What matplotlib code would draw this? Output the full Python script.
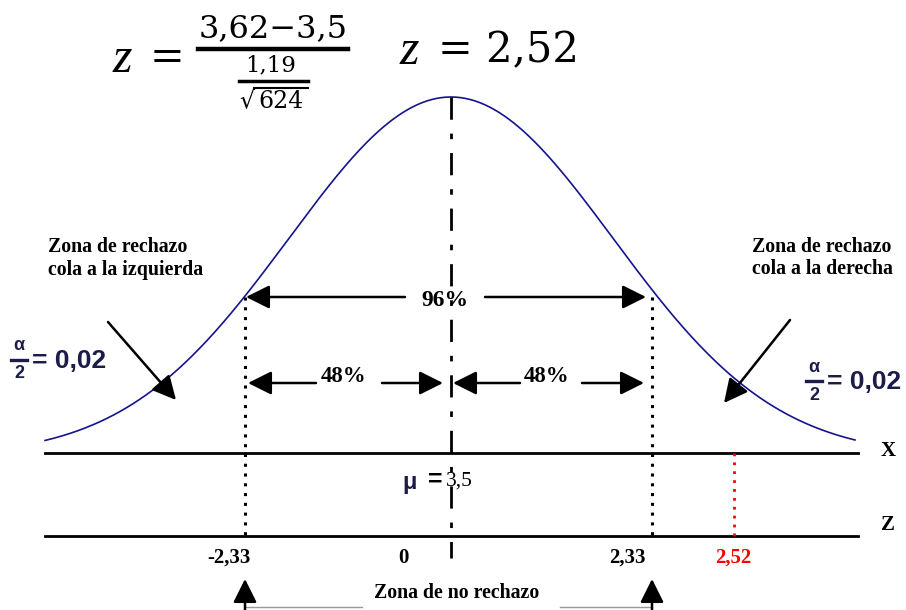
import numpy as np
import matplotlib
matplotlib.use("Agg")
import matplotlib.pyplot as plt

# Values shown in the diagram
xbar, mu, sd, n = "3,62", "3,5", "1,19", "624"
z_value = "2,52"
z_labels = ["-2,33", "0", "2,33", "2,52"]
z_label_colors = ["black", "black", "black", "red"]
pct_total = "96%"
pct_half = ["48%", "48%"]
alpha_half = "0,02"

# schematic layout (pixel canvas 906 x 610)
x_mid, x_left, x_right, x_obs = 451, 245, 652, 734
y_xline, y_zline = 453, 536
peak_y, base_y, spread = 97, 456, 162

fig = plt.figure(figsize=(9.06, 6.10), dpi=100)
ax = fig.add_axes([0, 0, 1, 1])
ax.set_xlim(0, 906)
ax.set_ylim(610, 0)
ax.axis("off")

serif = ["Liberation Serif", "DejaVu Serif"]
sans = ["Liberation Sans", "DejaVu Sans"]
navy = "#1c1c48"

# bell curve
xs = np.linspace(45, 855, 500)
ys = base_y - (base_y - peak_y) * np.exp(-0.5 * ((xs - x_mid) / spread) ** 2)
ax.plot(xs, ys, color="#14148c", lw=1.2)

# X and Z axes
ax.plot([45, 858], [y_xline, y_xline], color="black", lw=2)
ax.plot([45, 858], [y_zline, y_zline], color="black", lw=2)
ax.text(888, y_xline - 2, "X", fontsize=15, fontweight="bold", family=serif, ha="center", va="center")
ax.text(888, y_zline - 11, "Z", fontsize=15, fontweight="bold", family=serif, ha="center", va="center")

# centre line and critical lines
ax.plot([x_mid, x_mid], [peak_y, 558], color="black", lw=2, dashes=(8, 5, 2, 5))
for xc in (x_left, x_right):
    ax.plot([xc, xc], [297, y_zline], color="black", lw=2.2, ls=(0, (1, 2.2)))
ax.plot([x_obs, x_obs], [y_xline, y_zline], color="red", lw=2, ls=(0, (1, 2.2)))

arrow = dict(arrowstyle="-|>,head_length=0.9,head_width=0.45", color="black", lw=1.8,
             mutation_scale=16, shrinkA=0, shrinkB=0)

def arr(x0, y0, x1, y1):
    ax.annotate("", xy=(x1, y1), xytext=(x0, y0), arrowprops=arrow)

# 96% arrows
arr(405, 297, x_left + 1, 297)
arr(485, 297, x_right - 6, 297)
ax.text(445, 301, pct_total, fontsize=17, fontweight="bold", family=serif, ha="center", va="center")

# 48% arrows
arr(316, 383, x_left + 3, 383)
arr(382, 383, x_mid - 8, 383)
arr(520, 383, x_mid + 2, 383)
arr(582, 383, x_right - 8, 383)
ax.text(344, 377, pct_half[0], fontsize=16.5, fontweight="bold", family=serif, ha="center", va="center")
ax.text(547, 377, pct_half[1], fontsize=16.5, fontweight="bold", family=serif, ha="center", va="center")

# tail arrows
arr(108, 322, 176, 400)
arr(790, 320, 724, 403)
ax.text(48, 258, "Zona de rechazo\ncola a la izquierda", fontsize=14.3, fontweight="bold",
        family=serif, ha="left", va="center", linespacing=1.2)
ax.text(752, 258, "Zona de rechazo\ncola a la derecha", fontsize=14.3, fontweight="bold",
        family=serif, ha="left", va="center", linespacing=1.2)

# alpha/2 labels
for xa, ya in ((19, 360), (814, 381)):
    ax.text(xa, ya - 14, "\u03b1", fontsize=13, fontweight="bold", color=navy, family=sans,
            ha="center", va="center")
    ax.plot([xa - 8, xa + 8], [ya, ya], color=navy, lw=2.4)
    ax.text(xa, ya + 14, "2", fontsize=13, fontweight="bold", color=navy, family=sans,
            ha="center", va="center")
    ax.text(xa + 13, ya + 1, "= " + alpha_half, fontsize=19, fontweight="bold", color=navy,
            family=sans, ha="left", va="center")

# mu label
ax.text(410, 482, "\u03bc", fontsize=17, fontweight="bold", color=navy, family=sans, ha="center", va="center")
ax.text(435, 480, "=", fontsize=18, fontweight="bold", color="black", family=sans, ha="center", va="center")
ax.text(446, 481, mu, fontsize=15.5, family=serif, ha="left", va="center")

# z labels under the Z axis
for xz, lab, col in zip([229, 403, 627, 733], z_labels, z_label_colors):
    ax.text(xz, 558, lab, fontsize=15, fontweight="bold", family=serif, color=col,
            ha="center", va="center")

# no rejection zone
ax.text(457, 593, "Zona de no rechazo", fontsize=14.3, fontweight="bold", family=serif,
        ha="center", va="center")
arr(x_left, 620, x_left, 579)
arr(x_right, 620, x_right, 579)
ax.plot([x_left, 362], [607, 607], color="#999999", lw=1)
ax.plot([560, x_right], [607, 607], color="#999999", lw=1)

# z formula at the top
ax.text(113, 60, "z", fontsize=36, family="Liberation Serif", style="italic", ha="left", va="center")
ax.text(150, 58, "=", fontsize=30, family="DejaVu Serif", ha="left", va="center")
ax.text(273, 29, xbar + "\u2212" + mu, fontsize=23, family="DejaVu Serif", ha="center", va="center")
ax.plot([198, 348], [49, 49], color="black", lw=3.2)
ax.text(271, 65, sd, fontsize=16.5, family="DejaVu Serif", ha="center", va="center")
ax.plot([239, 308], [81, 81], color="black", lw=2.5)
ax.text(247, 101, "\u221a", fontsize=17, family="DejaVu Serif", ha="center", va="center")
ax.text(281, 101, n, fontsize=17, family="DejaVu Serif", ha="center", va="center")
ax.plot([254, 308], [88, 88], color="black", lw=1.5)
ax.text(400, 52, "z", fontsize=36, family="Liberation Serif", style="italic", ha="left", va="center")
ax.text(438, 50, "= " + z_value, fontsize=30, family="DejaVu Serif", ha="left", va="center")

fig.savefig("out.png", dpi=100)
